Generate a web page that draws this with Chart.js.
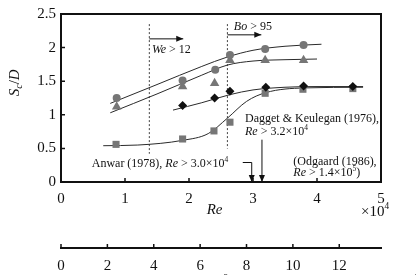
<!DOCTYPE html>
<html>
<head>
<meta charset="utf-8">
<script src="https://cdn.jsdelivr.net/npm/chart.js@4.4.1/dist/chart.umd.min.js"></script>
<style>
  body { margin: 0; background: #fff; }
  canvas { display: block; }
</style>
</head>
<body>
<canvas id="myChart" width="416" height="275"></canvas>
<script>
'use strict';

// ********* DATA *******************
// Re (x10^4) and Sc/D
let reCircle = [0.87, 1.90, 2.41, 2.64, 3.19, 3.79];
let scCircle = [1.25, 1.51, 1.67, 1.89, 1.98, 2.04];

let reTriangle = [0.87, 1.90, 2.40, 2.64, 3.19, 3.79];
let scTriangle = [1.12, 1.42, 1.47, 1.81, 1.81, 1.81];

let reDiamond = [1.90, 2.40, 2.64, 3.20, 3.79, 4.56];
let scDiamond = [1.14, 1.25, 1.35, 1.41, 1.43, 1.42];

let reSquare = [0.86, 1.90, 2.39, 2.64, 3.19, 3.78, 4.56];
let scSquare = [0.56, 0.64, 0.76, 0.89, 1.32, 1.38, 1.39];

// fitted curves, points
let reCircleFit = [0.77, 1.5, 2.2, 2.6, 3.0, 3.5, 4.07];
let scCircleFit = [1.17, 1.45, 1.72, 1.86, 1.96, 2.02, 2.05];

let reTriangleFit = [0.77, 1.5, 2.2, 2.6, 3.0, 3.5, 4.0];
let scTriangleFit = [1.03, 1.31, 1.59, 1.74, 1.80, 1.82, 1.83];

let reDiamondFit = [1.75, 2.2, 2.64, 3.0, 3.5, 4.0, 4.72];
let scDiamondFit = [1.07, 1.18, 1.30, 1.37, 1.41, 1.42, 1.42];

let reSquareFit = [0.66, 1.2, 1.9, 2.3, 2.6, 2.9, 3.2, 3.8, 4.72];
let scSquareFit = [0.54, 0.55, 0.62, 0.72, 0.95, 1.20, 1.33, 1.40, 1.41];

// We > 12 and Bo > 95 limits
let reWe = [1.38, 1.38];
let scWe = [2.35, 0.42];
let reBo = [2.60, 2.60];
let scBo = [2.35, 0.50];

let yTicks = [0, 0.5, 1, 1.5, 2, 2.5];
let xTicks = [0, 1, 2, 3, 4, 5];
let frTicks = [0, 2, 4, 6, 8, 10, 12];

function toPoints(xs, ys) {
  let pts = [];
  for (let i = 0; i < xs.length; i++) {
    pts.push({ x: xs[i], y: ys[i] });
  }
  return pts;
}

const SERIF = '"Liberation Serif", "DejaVu Serif", serif';
const GREY = '#767676';
const LINE = '#2a2a2a';

// draw text made of runs: {t, it, sup}
function drawRuns(ctx, x, y, runs, size) {
  ctx.textBaseline = 'middle';
  ctx.textAlign = 'left';
  for (let r of runs) {
    let s = r.sup ? size * 0.62 : size;
    ctx.font = (r.it ? 'italic ' : '') + s + 'px ' + SERIF;
    let dy = r.sup ? -size * 0.33 : 0;
    ctx.fillText(r.t, x, y + dy);
    x += ctx.measureText(r.t).width;
  }
  return x;
}

function arrow(ctx, x1, y1, x2, y2) {
  ctx.beginPath();
  ctx.moveTo(x1, y1);
  ctx.lineTo(x2, y2);
  ctx.stroke();
  let ang = Math.atan2(y2 - y1, x2 - x1);
  let len = 7, w = 3;
  ctx.beginPath();
  ctx.moveTo(x2, y2);
  ctx.lineTo(x2 - len * Math.cos(ang) + w * Math.sin(ang), y2 - len * Math.sin(ang) - w * Math.cos(ang));
  ctx.lineTo(x2 - len * Math.cos(ang) - w * Math.sin(ang), y2 - len * Math.sin(ang) + w * Math.cos(ang));
  ctx.closePath();
  ctx.fill();
}

// ********* PLUGIN: frame, inward ticks, notes *******************
const extras = {
  id: 'extras',
  afterDraw(chart) {
    const ctx = chart.ctx;
    const a = chart.chartArea;
    const x = chart.scales.x, y = chart.scales.y, x2 = chart.scales.x2;
    ctx.save();
    ctx.strokeStyle = '#111';
    ctx.fillStyle = '#111';

    // top and right of frame
    ctx.lineWidth = 2;
    ctx.beginPath();
    ctx.moveTo(a.left, a.top);
    ctx.lineTo(a.right, a.top);
    ctx.lineTo(a.right, a.bottom);
    ctx.stroke();

    // inward tick marks
    ctx.lineWidth = 1.5;
    ctx.beginPath();
    for (let v of xTicks) {
      let px = x.getPixelForValue(v);
      ctx.moveTo(px, a.bottom);
      ctx.lineTo(px, a.bottom - 4);
    }
    for (let v of yTicks) {
      let py = y.getPixelForValue(v);
      ctx.moveTo(a.left, py);
      ctx.lineTo(a.left + 4, py);
    }
    for (let v of frTicks) {
      let px = x2.getPixelForValue(v);
      ctx.moveTo(px, x2.top);
      ctx.lineTo(px, x2.top - 4);
    }
    ctx.stroke();

    // arrows
    ctx.lineWidth = 1;
    arrow(ctx, x.getPixelForValue(1.38), y.getPixelForValue(2.13), x.getPixelForValue(1.91), y.getPixelForValue(2.13));
    arrow(ctx, x.getPixelForValue(2.60), y.getPixelForValue(2.19), x.getPixelForValue(3.13), y.getPixelForValue(2.19));
    arrow(ctx, x.getPixelForValue(3.14), y.getPixelForValue(0.63), x.getPixelForValue(3.14), a.bottom);
    ctx.beginPath();
    ctx.moveTo(x.getPixelForValue(2.84), y.getPixelForValue(0.29));
    ctx.lineTo(x.getPixelForValue(2.98), y.getPixelForValue(0.29));
    ctx.stroke();
    arrow(ctx, x.getPixelForValue(2.98), y.getPixelForValue(0.29), x.getPixelForValue(2.98), a.bottom);

    // notes
    let fs = 12;
    drawRuns(ctx, x.getPixelForValue(1.42), y.getPixelForValue(1.96), [{ t: 'We', it: true }, { t: ' > 12' }], fs);
    drawRuns(ctx, x.getPixelForValue(2.70), y.getPixelForValue(2.31), [{ t: 'Bo', it: true }, { t: ' > 95' }], fs);
    drawRuns(ctx, x.getPixelForValue(2.875), y.getPixelForValue(0.945), [{ t: 'Dagget & Keulegan (1976),' }], fs);
    drawRuns(ctx, x.getPixelForValue(2.875), y.getPixelForValue(0.75), [{ t: 'Re', it: true }, { t: ' > 3.2' }, { t: '×' }, { t: '10' }, { t: '4', sup: true }], fs);
    drawRuns(ctx, x.getPixelForValue(0.48), y.getPixelForValue(0.265), [{ t: 'Anwar (1978), ' }, { t: 'Re', it: true }, { t: ' > 3.0' }, { t: '×' }, { t: '10' }, { t: '4', sup: true }], fs);
    drawRuns(ctx, x.getPixelForValue(3.63), y.getPixelForValue(0.30), [{ t: '(Odgaard (1986),' }], fs);
    drawRuns(ctx, x.getPixelForValue(3.63), y.getPixelForValue(0.14), [{ t: 'Re', it: true }, { t: ' > 1.4' }, { t: '×' }, { t: '10' }, { t: '5', sup: true }, { t: ')' }], fs);

    // axis titles
    let ts = 15;
    ctx.font = 'italic ' + ts + 'px ' + SERIF;
    let w = ctx.measureText('Re').width;
    drawRuns(ctx, (x.getPixelForValue(2.4)) - w / 2, 210, [{ t: 'Re', it: true }], ts);
    drawRuns(ctx, x.getPixelForValue(5) - 20, 212, [{ t: '×' }, { t: '10' }, { t: '4', sup: true }], 15);

    ctx.save();
    ctx.translate(15, 82);
    ctx.rotate(-Math.PI / 2);
    ctx.font = 'italic ' + ts + 'px ' + SERIF;
    let sw = ctx.measureText('S').width + ctx.measureText('/D').width + 6;
    let cx = -sw / 2;
    cx = drawRuns(ctx, cx, 0, [{ t: 'S', it: true }], ts);
    ctx.font = 'italic 10px ' + SERIF;
    ctx.fillText('c', cx, 4);
    cx += ctx.measureText('c').width;
    drawRuns(ctx, cx, 0, [{ t: '/' }, { t: 'D', it: true }], ts);
    ctx.restore();

    // second axis title, cut by bottom edge
    drawRuns(ctx, 196, 284, [{ t: 'Fr', it: true }, { t: '/' }, { t: 'Z', it: true }, { t: '2', sup: true }], 15);
    drawRuns(ctx, 386, 284, [{ t: '×' }, { t: '10' }, { t: '−3', sup: true }], 15);

    ctx.restore();
  }
};

// ********* CHART *******************
const ctx = document.getElementById('myChart').getContext('2d');

const myChart = new Chart(ctx, {
  type: 'scatter',
  data: {
    datasets: [
      {
        data: toPoints(reDiamond, scDiamond),
        pointStyle: 'rectRot', pointRadius: 4.5,
        backgroundColor: '#111', borderColor: '#111', borderWidth: 0
      },
      {
        data: toPoints(reSquare, scSquare),
        pointStyle: 'rect', pointRadius: 5,
        backgroundColor: GREY, borderColor: GREY, borderWidth: 0
      },
      {
        data: toPoints(reCircle, scCircle),
        pointStyle: 'circle', pointRadius: 4,
        backgroundColor: GREY, borderColor: GREY, borderWidth: 0
      },
      {
        data: toPoints(reTriangle, scTriangle),
        pointStyle: 'triangle', pointRadius: 5.5,
        backgroundColor: GREY, borderColor: GREY, borderWidth: 0
      },
      {
        data: toPoints(reCircleFit, scCircleFit),
        showLine: true, pointRadius: 0, borderColor: LINE, borderWidth: 1,
        cubicInterpolationMode: 'monotone'
      },
      {
        data: toPoints(reTriangleFit, scTriangleFit),
        showLine: true, pointRadius: 0, borderColor: LINE, borderWidth: 1,
        cubicInterpolationMode: 'monotone'
      },
      {
        data: toPoints(reDiamondFit, scDiamondFit),
        showLine: true, pointRadius: 0, borderColor: LINE, borderWidth: 1,
        cubicInterpolationMode: 'monotone'
      },
      {
        data: toPoints(reSquareFit, scSquareFit),
        showLine: true, pointRadius: 0, borderColor: LINE, borderWidth: 1,
        cubicInterpolationMode: 'monotone'
      },
      {
        data: toPoints(reWe, scWe),
        showLine: true, pointRadius: 0, borderColor: '#444', borderWidth: 1,
        borderDash: [2, 2]
      },
      {
        data: toPoints(reBo, scBo),
        showLine: true, pointRadius: 0, borderColor: '#444', borderWidth: 1,
        borderDash: [2, 2]
      }
    ]
  },
  options: {
    responsive: false,
    animation: false,
    devicePixelRatio: 1,
    layout: { padding: { top: 3, right: 35, left: 0, bottom: 0 } },
    plugins: { legend: { display: false }, tooltip: { enabled: false } },
    scales: {
      x: {
        type: 'linear', position: 'bottom', min: 0, max: 5, weight: 0,
        ticks: { stepSize: 1, padding: 8, color: '#111', font: { family: SERIF, size: 15 } },
        grid: { drawOnChartArea: false, drawTicks: false },
        border: { color: '#111', width: 2 },
        afterFit(s) { s.height = 66; }
      },
      x2: {
        type: 'linear', position: 'bottom', min: 0, max: 13.8, weight: 1,
        ticks: { stepSize: 2, padding: 9, color: '#111', font: { family: SERIF, size: 15 } },
        grid: { drawOnChartArea: false, drawTicks: false },
        border: { color: '#111', width: 2 },
        afterBuildTicks(s) { s.ticks = frTicks.map(v => ({ value: v })); },
        afterFit(s) { s.height = 27; }
      },
      y: {
        type: 'linear', min: 0, max: 2.5,
        ticks: {
          stepSize: 0.5, padding: 5, color: '#111', font: { family: SERIF, size: 15 },
          callback: v => String(v)
        },
        grid: { drawOnChartArea: false, drawTicks: false },
        border: { color: '#111', width: 2 },
        afterFit(s) { s.width = 61; }
      }
    }
  },
  plugins: [extras]
});
</script>
</body>
</html>
